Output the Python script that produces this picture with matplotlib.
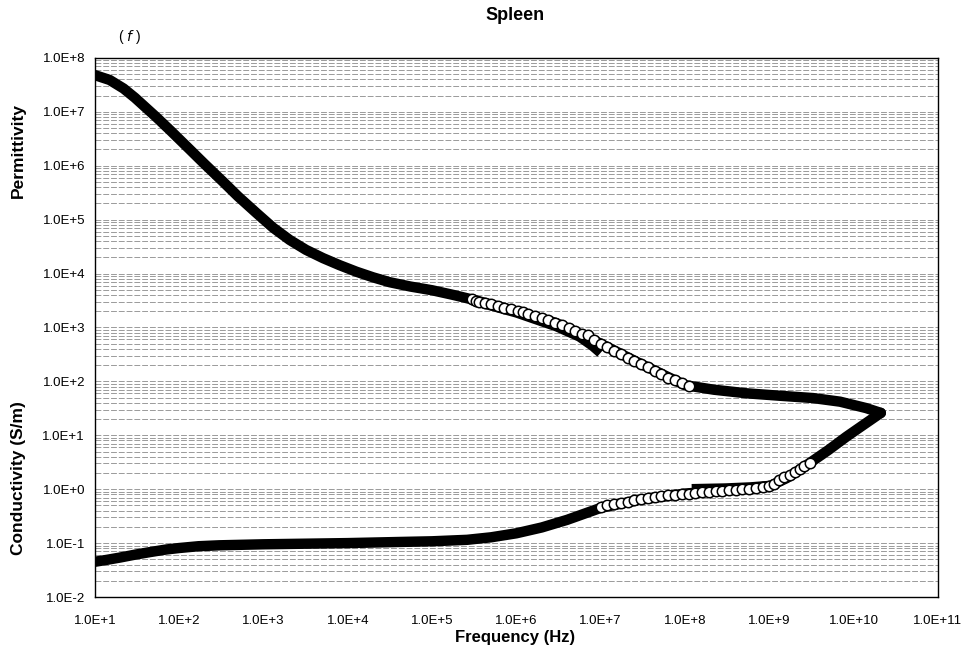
"""Spleen: permittivity and conductivity vs frequency (log-log)."""
import matplotlib
matplotlib.use("Agg")
import matplotlib.pyplot as plt
from matplotlib.ticker import FuncFormatter, LogLocator, NullLocator, NullFormatter
import numpy as np

plt.rcParams["font.family"] = ["Liberation Sans", "DejaVu Sans"]

# model curves
perm_freq = [10, 15, 22, 30, 54, 80, 134, 200, 330, 500, 830, 1.3e3, 2.05e3,
             3.2e3, 5.1e3, 8e3, 1.27e4, 2e4, 3.15e4, 5.5e4, 1e5, 1.8e5, 3e5,
             1e6, 3e6, 1e7, 3e7, 1e8, 2.2e8, 5.4e8, 1.35e9, 3.3e9, 6.9e9,
             1.4e10, 2.1e10]
perm_val = [4.8e7, 3.9e7, 2.7e7, 1.82e7, 7.9e6, 4.4e6, 2.0e6, 1.08e6, 5.1e5,
            2.7e5, 1.32e5, 7.1e4, 4.2e4, 2.75e4, 1.93e4, 1.43e4, 1.08e4, 8.5e3,
            6.9e3, 5.75e3, 4.9e3, 4.0e3, 3.3e3, 2.0e3, 1.2e3, 500, 210, 85, 70,
            60, 54, 49, 42, 32, 26]

cond_freq = [10, 14, 20, 30, 45, 70, 100, 170, 300, 1e3, 1e4, 4.2e4, 1e5,
             2.6e5, 5e5, 1e6, 2e6, 4e6, 1e7, 3e7, 1e8, 3e8, 1e9, 1.6e9, 2.3e9,
             3e9, 5e9, 8.2e9, 1.3e10, 2.1e10]
cond_val = [0.045, 0.049, 0.054, 0.061, 0.068, 0.076, 0.081, 0.0875, 0.091,
            0.095, 0.100, 0.105, 0.108, 0.115, 0.128, 0.152, 0.195, 0.27, 0.45,
            0.64, 0.83, 0.94, 1.13, 1.6, 2.3, 3.05, 5.3, 9.4, 15.5, 26]

# measured data, open circles
perm_meas_freq = [3.0e5, 3.3e5, 3.6e5, 4.2e5, 5.0e5, 6.0e5, 7.2e5, 8.7e5,
                  1.05e6, 1.2e6, 1.38e6, 1.66e6, 2.0e6, 2.4e6, 2.9e6, 3.5e6,
                  4.2e6, 5.0e6, 6.0e6, 7.1e6, 8.3e6, 1.0e7, 1.2e7, 1.45e7,
                  1.74e7, 2.1e7, 2.5e7, 3.0e7, 3.6e7, 4.4e7, 5.2e7, 6.3e7,
                  7.6e7, 9.1e7, 1.1e8]
perm_meas_val = [3310, 3160, 3020, 2880, 2690, 2510, 2340, 2190, 2000, 1950,
                 1780, 1620, 1480, 1350, 1230, 1100, 980, 870, 760, 710, 590,
                 500, 430, 370, 316, 275, 240, 209, 182, 155, 135, 117, 105,
                 93, 83]

cond_meas_freq = [1.0e7, 1.2e7, 1.45e7, 1.74e7, 2.1e7, 2.5e7, 3.0e7, 3.6e7,
                  4.4e7, 5.2e7, 6.3e7, 7.6e7, 9.1e7, 1.1e8, 1.3e8, 1.6e8,
                  1.9e8, 2.3e8, 2.75e8, 3.3e8, 4.0e8, 4.8e8, 5.75e8, 6.9e8,
                  8.3e8, 1.0e9, 1.15e9, 1.3e9, 1.5e9, 1.74e9, 2.0e9, 2.3e9,
                  2.6e9, 3.0e9]
cond_meas_val = [0.47, 0.50, 0.53, 0.56, 0.59, 0.62, 0.65, 0.68, 0.71, 0.74,
                 0.77, 0.79, 0.81, 0.83, 0.85, 0.87, 0.89, 0.91, 0.93, 0.95,
                 0.97, 0.99, 1.01, 1.04, 1.08, 1.14, 1.27, 1.45, 1.65, 1.85,
                 2.1, 2.35, 2.65, 3.05]

# second measured set (filled)
perm_b_freq = [3e5, 1e6, 3e6, 5.6e6, 8e6, 1e7]
perm_b_val = [3200, 1900, 1050, 680, 460, 340]
cond_b_freq = [1.2e8, 3e8, 6e8, 1e9]
cond_b_val = [1.0, 1.03, 1.08, 1.15]

fig = plt.figure(figsize=(9.67, 6.58), dpi=100)
ax = fig.add_axes([0.098, 0.0927, 0.872, 0.8193])

ax.set_xscale("log")
ax.set_yscale("log")
ax.set_xlim(1e1, 1e11)
ax.set_ylim(1e-2, 1e8)

ax.yaxis.set_major_locator(LogLocator(base=10, numticks=20))
ax.yaxis.set_minor_locator(LogLocator(base=10, subs=np.arange(2, 10), numticks=20))
ax.yaxis.set_minor_formatter(NullFormatter())
ax.xaxis.set_major_locator(LogLocator(base=10, numticks=20))
ax.xaxis.set_minor_locator(NullLocator())

ax.yaxis.grid(True, which="both", color="#9a9a9a", lw=0.7, ls=(0, (6, 2)))
ax.set_axisbelow(True)

lw = 7.5
ax.plot(perm_freq, perm_val, color="black", lw=lw, solid_capstyle="round",
        solid_joinstyle="round", zorder=2)
ax.plot(cond_freq, cond_val, color="black", lw=lw, solid_capstyle="round",
        solid_joinstyle="round", zorder=2)
ax.plot(perm_b_freq, perm_b_val, color="black", lw=lw, solid_capstyle="butt", zorder=2)
ax.plot(cond_b_freq, cond_b_val, color="black", lw=lw, solid_capstyle="butt", zorder=2)

for fx, vy in [(perm_meas_freq, perm_meas_val), (cond_meas_freq, cond_meas_val)]:
    ax.plot(fx, vy, ls="none", marker="o", ms=7.5, mfc="white", mec="black",
            mew=1.1, zorder=3)

fmt = FuncFormatter(lambda v, p: f"1.0E{int(round(np.log10(v))):+d}")
ax.xaxis.set_major_formatter(fmt)
ax.yaxis.set_major_formatter(fmt)
ax.tick_params(axis="both", which="both", length=0, labelsize=9.5)
ax.tick_params(axis="x", pad=13)
ax.tick_params(axis="y", pad=7)

for s in ax.spines.values():
    s.set_linewidth(1.0)
    s.set_color("black")

fig.text(0.533, 0.977, "Spleen", ha="center", va="center", fontsize=13,
         fontweight="bold")
fig.text(0.134, 0.944, "( $f$ )", ha="center", va="center", fontsize=10)
fig.text(0.533, 0.031, "Frequency (Hz)", ha="center", va="center",
         fontsize=12, fontweight="bold")
fig.text(0.019, 0.772, "Permittivity", ha="center", va="center",
         rotation=90, fontsize=12.5, fontweight="bold")
fig.text(0.019, 0.274, "Conductivity (S/m)", ha="center", va="center",
         rotation=90, fontsize=12.5, fontweight="bold")

fig.savefig("out.png", dpi=100)
